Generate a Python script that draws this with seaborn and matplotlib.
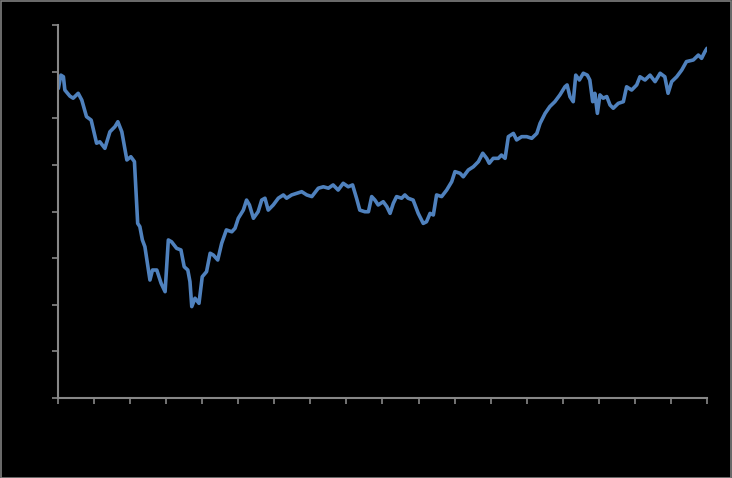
import numpy as np
import pandas as pd
import seaborn as sns
import matplotlib.pyplot as plt
from matplotlib.patches import Rectangle

# time in years from the first tick
t_years = [0.01, 0.08, 0.15, 0.19, 0.33, 0.42, 0.56, 0.66, 0.79, 0.92,
           1.07, 1.16, 1.30, 1.44, 1.58, 1.66, 1.77, 1.91, 2.02, 2.12,
           2.21, 2.27, 2.34, 2.41, 2.55, 2.62, 2.74, 2.86, 2.97, 3.06,
           3.15, 3.29, 3.41, 3.50, 3.60, 3.66, 3.71, 3.80, 3.91, 4.00,
           4.12, 4.22, 4.31, 4.43, 4.54, 4.67, 4.82, 4.91, 5.00, 5.14,
           5.23, 5.31, 5.42, 5.55, 5.65, 5.74, 5.83, 5.97, 6.11, 6.25,
           6.34, 6.48, 6.62, 6.76, 6.90, 7.04, 7.22, 7.36, 7.50, 7.63,
           7.77, 7.91, 8.05, 8.17, 8.28, 8.37, 8.51, 8.61, 8.70, 8.79,
           8.88, 9.02, 9.12, 9.21, 9.30, 9.39, 9.53, 9.62, 9.71, 9.85,
           9.99, 10.13, 10.22, 10.32, 10.41, 10.50, 10.64, 10.78, 10.92, 11.01,
           11.15, 11.24, 11.38, 11.52, 11.66, 11.78, 11.89, 11.96, 12.07, 12.21,
           12.30, 12.40, 12.49, 12.63, 12.72, 12.86, 13.00, 13.14, 13.28, 13.37,
           13.51, 13.64, 13.78, 13.92, 14.06, 14.12, 14.20, 14.29, 14.36, 14.46,
           14.57, 14.68, 14.75, 14.83, 14.89, 14.96, 15.03, 15.12, 15.22, 15.31,
           15.40, 15.54, 15.68, 15.77, 15.91, 16.05, 16.14, 16.28, 16.42, 16.56,
           16.70, 16.83, 16.92, 17.02, 17.16, 17.30, 17.43, 17.62, 17.76, 17.85,
           17.94, 18.00]
index_values = [1328, 1385, 1378, 1321, 1295, 1286, 1307, 1278, 1207, 1192,
                1093, 1099, 1071, 1142, 1164, 1185, 1142, 1021, 1035, 1014,
                749, 735, 678, 649, 506, 549, 549, 492, 456, 678,
                670, 642, 635, 563, 549, 499, 392, 428, 406, 520,
                542, 621, 613, 592, 664, 721, 713, 728, 771, 806,
                849, 828, 771, 799, 849, 857, 806, 828, 857, 871,
                857, 871, 878, 885, 871, 864, 900, 906, 900, 914,
                892, 921, 906, 914, 857, 806, 799, 799, 864, 849,
                828, 842, 821, 792, 835, 864, 857, 871, 857, 849,
                792, 749, 756, 792, 785, 871, 864, 892, 928, 971,
                964, 949, 978, 992, 1014, 1050, 1028, 1007, 1028, 1028,
                1042, 1028, 1121, 1135, 1107, 1121, 1121, 1114, 1135, 1178,
                1221, 1250, 1271, 1300, 1335, 1343, 1292, 1271, 1385, 1364,
                1393, 1385, 1364, 1271, 1307, 1221, 1300, 1286, 1293, 1257,
                1243, 1264, 1271, 1335, 1321, 1343, 1378, 1364, 1385, 1357,
                1393, 1378, 1307, 1357, 1378, 1407, 1443, 1450, 1471, 1457,
                1485, 1500]

year_labels = [str(y) for y in range(1995, 2014)]
y_ticks = list(range(0, 1601, 200))

df = pd.DataFrame({'t': t_years, 'value': index_values})

sns.set_style('white')
fig = plt.figure(figsize=(7.32, 4.78), dpi=100, facecolor='black')
ax = fig.add_axes([58 / 732, 80 / 478, 649 / 732, 373 / 478])
ax.set_facecolor('black')

sns.lineplot(data=df, x='t', y='value', ax=ax, color='#4F81BD', linewidth=2.6)

ax.set_xlim(0, 18)
ax.set_ylim(0, 1600)
ax.set_xticks(range(len(year_labels)))
ax.set_xticklabels(year_labels, fontsize=7, color='black')
ax.set_yticks(y_ticks)
ax.set_yticklabels([str(v) for v in y_ticks], fontsize=7, color='black')
ax.set_xlabel('')
ax.set_ylabel('')

for side in ['top', 'right']:
    ax.spines[side].set_visible(False)
for side in ['left', 'bottom']:
    ax.spines[side].set_color('#878787')
    ax.spines[side].set_linewidth(1.5)
ax.tick_params(axis='both', which='major', bottom=True, left=True,
               direction='out', length=4, width=1.2, color='#878787')

# thin grey frame round the whole picture
fig.patches.append(Rectangle((0.001, 0.001), 0.998, 0.997, transform=fig.transFigure,
                             fill=False, edgecolor='#7f7f7f', linewidth=1.2))

fig.savefig('out.png', dpi=100, facecolor='black')
